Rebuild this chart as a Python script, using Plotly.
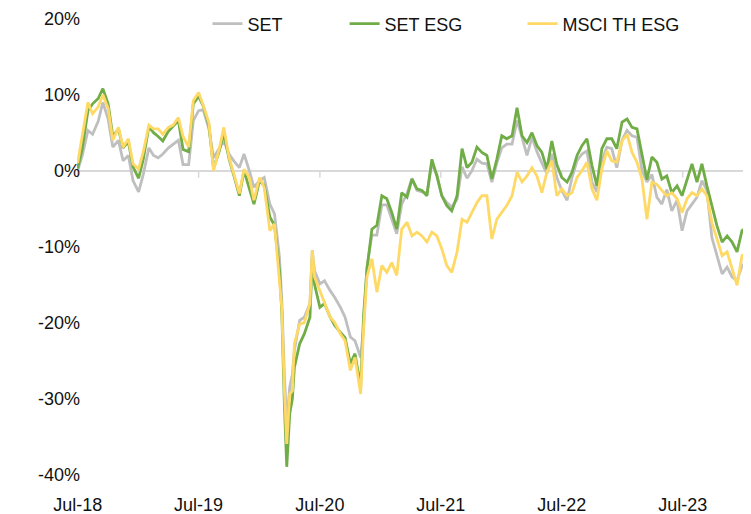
import plotly.graph_objects as go

# cumulative relative performance (%)
dates = [
    "2018-07-01", "2018-07-15", "2018-08-01", "2018-08-15", "2018-09-01", "2018-09-15",
    "2018-10-01", "2018-10-15", "2018-11-01", "2018-11-15", "2018-12-01", "2018-12-15",
    "2019-01-01", "2019-01-15", "2019-02-01", "2019-02-15", "2019-03-01", "2019-03-15",
    "2019-04-01", "2019-04-15", "2019-05-01", "2019-05-15", "2019-06-01", "2019-06-15",
    "2019-07-01", "2019-07-15", "2019-08-01", "2019-08-15", "2019-09-01", "2019-09-15",
    "2019-10-01", "2019-10-15", "2019-11-01", "2019-11-15", "2019-12-01", "2019-12-15",
    "2020-01-01", "2020-01-15", "2020-02-01", "2020-02-15", "2020-03-01", "2020-03-08",
    "2020-03-16", "2020-03-23", "2020-04-01", "2020-04-09", "2020-04-15", "2020-05-01",
    "2020-05-15", "2020-06-01", "2020-06-08", "2020-06-15", "2020-07-01", "2020-07-15",
    "2020-08-01", "2020-08-15", "2020-09-01", "2020-09-15", "2020-10-01", "2020-10-15",
    "2020-11-01", "2020-11-10",
    "2020-11-20", "2020-12-05", "2020-12-20", "2021-01-04", "2021-01-19", "2021-02-03",
    "2021-02-18", "2021-03-05", "2021-03-21", "2021-04-05", "2021-04-20", "2021-05-05",
    "2021-05-20", "2021-06-04", "2021-06-19", "2021-07-04", "2021-07-19", "2021-08-03",
    "2021-08-19", "2021-09-03", "2021-09-18", "2021-10-03", "2021-10-18", "2021-11-02",
    "2021-11-17", "2021-12-02", "2021-12-17", "2022-01-01", "2022-01-16", "2022-02-01",
    "2022-02-16", "2022-03-03", "2022-03-18", "2022-04-02", "2022-04-17", "2022-05-02",
    "2022-05-17", "2022-06-01", "2022-06-16", "2022-07-01", "2022-07-17", "2022-08-01",
    "2022-08-16", "2022-08-31", "2022-09-15", "2022-09-30", "2022-10-15", "2022-10-30",
    "2022-11-14", "2022-11-29", "2022-12-14", "2022-12-30", "2023-01-14", "2023-01-29",
    "2023-02-13", "2023-02-28", "2023-03-15", "2023-03-30", "2023-04-14", "2023-04-29",
    "2023-05-14", "2023-05-29", "2023-06-14", "2023-06-29", "2023-07-14", "2023-07-29",
    "2023-08-13", "2023-08-28", "2023-09-12", "2023-09-27", "2023-10-12", "2023-10-28",
    "2023-11-12", "2023-11-27", "2023-12-12", "2023-12-27", "2024-01-03",
]

set_idx = [
    0.0, 2.0, 5.3, 4.8, 6.5, 9.0,
    6.8, 3.1, 4.0, 1.3, 2.0, -1.3,
    -2.8, -0.5, 3.0, 2.0, 1.7, 2.2,
    3.0, 3.5, 4.0, 0.8, 0.8, 6.6,
    7.9, 8.0, 5.5, 1.7, 3.0, 3.9,
    2.2, 1.3, 0.4, 2.2, 0.0, -2.2,
    -1.3, -0.9, -4.4, -5.7, -11.4, -17.0,
    -27.0, -33.3, -28.5, -26.8, -23.7, -19.7,
    -19.3, -17.5, -10.5, -13.2, -14.9, -14.5,
    -15.8, -16.7, -18.0, -19.3, -21.9, -22.4,
    -24.6, -20.6,
    -12.7, -8.5, -8.5, -4.5, -4.5, -6.5,
    -8.3, -4.4, -3.0, -1.0, -2.6, -2.8,
    -3.0, 1.0, -0.5, -3.3, -4.2, -4.8,
    -3.8, 0.5, -1.0, 0.0, 1.5, 1.0,
    0.9, -1.5, 1.0, 3.0, 3.5, 3.5,
    6.6, 4.4, 2.0, 4.4, 2.5, 1.0,
    -0.4, 2.2, -0.9, -2.6, -3.9, -0.9,
    1.3, 2.2, 2.6, -1.5, -2.8, 1.3,
    3.1, 2.9, 0.4, 4.0, 5.3, 4.6,
    4.4, 0.0, -1.5, -0.5, -3.5, -4.4,
    -2.5, -5.3, -3.9, -7.9, -5.3, -4.4,
    -3.5, -1.3, -2.6, -8.8, -11.0, -13.6,
    -12.7, -14.0, -14.5, -12.5, -12.3,
]

set_esg = [
    0.3, 3.0, 7.9, 8.8, 9.5, 10.8,
    8.8, 4.5, 5.5, 3.0, 3.8, 0.5,
    -1.0, 1.5, 5.8, 5.0, 4.5, 3.9,
    5.2, 5.8, 6.6, 2.8, 2.5, 8.8,
    9.8, 8.5, 6.0, 0.3, 2.5, 5.0,
    1.5, -0.6, -3.3, 0.0, -2.4, -4.4,
    -1.3, -2.0, -6.1, -7.2, -13.2, -18.5,
    -31.0, -39.0, -32.0, -30.0, -25.9, -22.8,
    -21.5, -19.3, -11.5, -15.0, -18.0, -17.5,
    -19.3, -20.4, -21.3, -22.0, -25.4, -24.1,
    -28.5, -19.0,
    -13.0, -7.7, -7.2, -3.3, -3.7, -5.5,
    -7.7, -2.9, -3.5, -1.1, -2.4, -2.6,
    -3.3, 1.5, -0.7, -3.3, -4.6, -5.3,
    -3.3, 2.9, 0.4, 1.1, 3.1, 2.4,
    2.0, -1.1, 1.5, 4.6, 4.2, 4.6,
    8.3, 4.6, 3.7, 5.0, 3.3, 2.4,
    0.2, 3.9, 0.8, -0.9, -1.5, -0.2,
    2.0, 3.3, 4.2, 0.7, -2.0, 2.9,
    4.2, 4.2, 2.9, 6.4, 6.8, 5.7,
    5.5, 2.0, -1.2, 1.8, 1.1, -1.1,
    -0.7, -2.9, -2.0, -3.3, -1.1, 0.9,
    -1.5, 0.9, -2.0, -4.6, -7.2, -9.4,
    -8.6, -9.4, -10.7, -7.9, -7.7,
]

msci_th_esg = [
    1.0, 4.5, 9.0, 7.5, 8.4, 10.0,
    8.2, 4.0, 5.7, 3.1, 4.2, 0.9,
    0.2, 2.5, 6.0, 5.5, 5.5, 4.8,
    5.7, 6.0, 7.0, 4.5, 3.1, 9.2,
    10.3, 8.6, 6.3, 0.0, 2.8, 5.7,
    1.7, -0.4, -3.0, 0.2, -0.9, -3.9,
    -0.9, -2.2, -7.9, -7.0, -14.0, -18.0,
    -29.0, -36.0, -29.4, -29.0, -22.8, -20.2,
    -20.0, -17.5, -10.5, -14.0, -15.8, -17.5,
    -19.3, -20.0, -21.5, -22.4, -26.3, -24.6,
    -29.4, -20.6,
    -14.0, -11.6, -16.0, -12.5, -13.4, -12.1,
    -13.8, -7.7, -6.8, -8.6, -8.1, -8.6,
    -9.4, -8.1, -8.6, -10.3, -12.5, -13.4,
    -10.7, -6.4, -6.8, -5.5, -4.2, -3.3,
    -3.3, -9.0, -6.4, -5.5, -4.6, -3.3,
    -0.2, -1.5, -0.7, 0.4, -0.7, -2.9,
    -0.2, 1.3, -3.3, -2.4, -3.3, -2.9,
    -0.9, 0.0, 1.1, -2.4, -3.9, 0.2,
    2.6, 1.3, 1.1, 3.9, 4.8, 2.4,
    1.1, -1.1, -6.4, -1.5, -1.8, -2.6,
    -3.3, -2.9, -3.7, -5.5, -3.7, -2.9,
    -3.3, -2.4, -3.3, -6.8, -9.0, -11.2,
    -10.7, -12.9, -15.1, -11.2, -11.0,
]

x_ticks = ["2018-07-01", "2019-07-01", "2020-07-01", "2021-07-01", "2022-07-01", "2023-07-01"]
x_labels = ["Jul-18", "Jul-19", "Jul-20", "Jul-21", "Jul-22", "Jul-23"]
y_ticks = [-40, -30, -20, -10, 0, 10, 20]
y_labels = ["-40%", "-30%", "-20%", "-10%", "0%", "10%", "20%"]

series = [
    ("SET", set_idx, "#bfbfbf", "legend", 0.195),
    ("SET ESG", set_esg, "#70ad47", "legend2", 0.400),
    ("MSCI TH ESG", msci_th_esg, "#ffd966", "legend3", 0.666),
]

font = dict(family="Liberation Sans, Arial, sans-serif", size=18, color="#111111")

fig = go.Figure()
for name, vals, color, leg, _ in series:
    fig.add_trace(go.Scatter(x=dates, y=vals, mode="lines", name=name,
                             line=dict(color=color, width=2.8), legend=leg))

legends = {}
for name, vals, color, leg, lx in series:
    legends[leg] = dict(x=lx, y=0.981, xanchor="left", yanchor="middle",
                        orientation="h", font=font, bgcolor="rgba(0,0,0,0)")

# small tick marks hanging off the zero line at each x tick
shapes = [dict(type="line", xref="x", yref="y", x0=d, x1=d, ysizemode="pixel",
               yanchor=0, y0=0, y1=-7, line=dict(color="#d9d9d9", width=1.5), layer="below")
          for d in x_ticks]

# the page body adds an 8px margin, so the figure is a bit smaller than the window
fig.update_layout(
    width=743, height=506,
    margin=dict(l=69, r=5, t=7, b=32, autoexpand=False),
    paper_bgcolor="white", plot_bgcolor="white",
    font=font,
    showlegend=True,
    shapes=shapes,
    xaxis=dict(range=["2018-06-29", "2024-01-08"], tickvals=x_ticks, ticktext=x_labels,
               showgrid=False, zeroline=False, showline=False, ticks="",
               ticklabelstandoff=10, automargin=False),
    yaxis=dict(range=[-41, 20.5], tickvals=y_ticks, ticktext=y_labels,
               showgrid=False, zeroline=True, zerolinecolor="#d9d9d9", zerolinewidth=2,
               showline=False, ticks="", ticklabelstandoff=-4, automargin=False),
    **legends,
)

fig.write_html("out.html")
